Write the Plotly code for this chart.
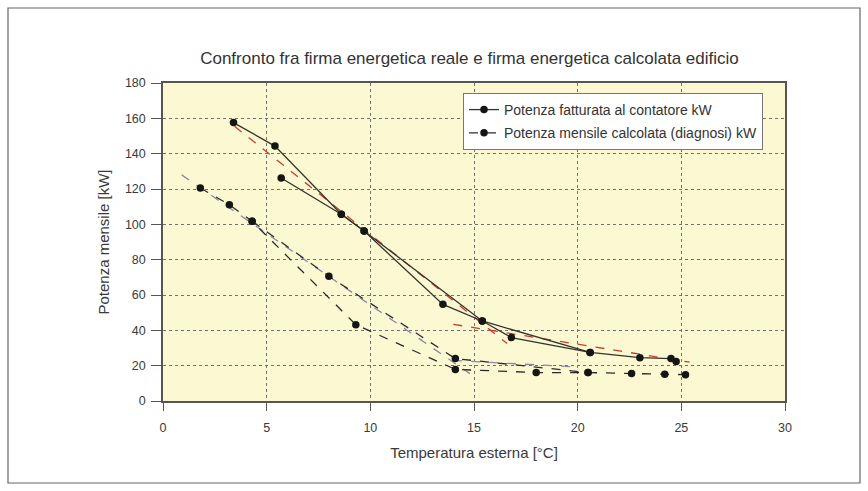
import plotly.graph_objects as go

# ---- data ----
# Potenza fatturata al contatore kW (solid) – two branches of the same series
fatt_a_x = [5.7, 8.6, 9.7, 13.5, 15.4, 16.8, 20.6, 23.0, 24.5, 24.75]
fatt_a_y = [126.2, 105.7, 96.2, 54.7, 45.3, 35.9, 27.5, 24.5, 24.0, 22.4]
fatt_b_x = [3.4, 5.4, 8.6, 9.7, 15.4, 20.6]
fatt_b_y = [157.6, 144.3, 105.7, 96.2, 45.3, 27.5]

# Potenza mensile calcolata (diagnosi) kW (dashed) – two branches
calc_a_x = [1.8, 3.2, 4.3, 9.3, 14.1, 18.0, 20.5, 22.6, 24.2, 25.2]
calc_a_y = [120.6, 111.1, 101.7, 43.2, 17.9, 16.1, 16.1, 15.5, 15.1, 14.9]
calc_b_x = [4.3, 8.0, 14.1, 20.5]
calc_b_y = [101.7, 70.6, 24.0, 16.1]

# trend lines (red: billed, blue-grey: calculated)
trend_red_1_x = [3.45, 16.6]
trend_red_1_y = [155.5, 32.5]
trend_red_2_x = [14.0, 25.4]
trend_red_2_y = [43.4, 22.0]
trend_blue_1_x = [0.9, 14.8]
trend_blue_1_y = [128.0, 15.5]
trend_blue_2_x = [14.0, 20.0]
trend_blue_2_y = [23.0, 19.2]

x_ticks = [0, 5, 10, 15, 20, 25, 30]
y_ticks = [0, 20, 40, 60, 80, 100, 120, 140, 160, 180]

FONT = "Liberation Sans, Arial, sans-serif"
fig = go.Figure()

for tx, ty in [(trend_blue_1_x, trend_blue_1_y), (trend_blue_2_x, trend_blue_2_y)]:
    fig.add_trace(go.Scatter(x=tx, y=ty, mode="lines", showlegend=False,
                             line=dict(color="#8a88a8", width=1.3, dash="dash")))
for tx, ty in [(trend_red_1_x, trend_red_1_y), (trend_red_2_x, trend_red_2_y)]:
    fig.add_trace(go.Scatter(x=tx, y=ty, mode="lines", showlegend=False,
                             line=dict(color="#cc3b2e", width=1.3, dash="dash")))

solid_line = dict(color="#33332b", width=1.3)
mk = dict(color="#151515", size=7.5)
fig.add_trace(go.Scatter(x=fatt_a_x, y=fatt_a_y, mode="lines+markers",
                         name="Potenza fatturata al contatore kW",
                         legendgroup="a", line=solid_line, marker=mk))
fig.add_trace(go.Scatter(x=fatt_b_x, y=fatt_b_y, mode="lines+markers",
                         showlegend=False, legendgroup="a", line=solid_line, marker=mk))

dash_line = dict(color="#2b2b2b", width=1.3, dash="dash")
fig.add_trace(go.Scatter(x=calc_a_x, y=calc_a_y, mode="lines+markers",
                         name="Potenza mensile calcolata (diagnosi) kW",
                         legendgroup="b", line=dash_line, marker=mk))
fig.add_trace(go.Scatter(x=calc_b_x, y=calc_b_y, mode="lines+markers",
                         showlegend=False, legendgroup="b", line=dash_line, marker=mk))

L, R, T, B = 163, 83, 83, 90
W, H = 868, 491
pw, ph = W - L - R, H - T - B

def px(xp):
    return (xp - L) / pw

def py(yp):
    return (H - B - yp) / ph

fig.update_layout(
    width=W, height=H,
    margin=dict(l=L, r=R, t=T, b=B, autoexpand=False),
    paper_bgcolor="white",
    plot_bgcolor="#fcf8d2",
    font=dict(family=FONT, size=12.5, color="#3a3a3a"),
    title=dict(text="Confronto fra firma energetica reale e firma energetica calcolata edificio",
               x=px(469.5), xref="paper", xanchor="center", y=1 - 58 / H, yanchor="middle",
               font=dict(size=17, color="#333333")),
    legend=dict(x=px(463), y=py(93), xanchor="left", yanchor="top",
                bgcolor="white", bordercolor="#777777", borderwidth=1,
                font=dict(size=14, color="#333333"),
                traceorder="grouped", tracegroupgap=2),
    shapes=[dict(type="rect", xref="paper", yref="paper",
                 x0=px(8), x1=px(860), y0=py(483), y1=py(8),
                 line=dict(color="#666666", width=1.2), layer="below")],
)
fig.update_xaxes(range=[0, 30], tickvals=x_ticks, ticktext=[str(v) for v in x_ticks],
                 showgrid=True, gridcolor="#707070", griddash="dot", gridwidth=1,
                 zeroline=False, showline=True, linecolor="#555555", linewidth=1.5,
                 mirror=True, ticks="outside", ticklen=8, tickcolor="#555555",
                 ticklabelstandoff=6,
                 title=dict(text="Temperatura esterna [°C]", font=dict(size=15), standoff=14))
fig.update_yaxes(range=[0, 180], tickvals=y_ticks, ticktext=[str(v) for v in y_ticks],
                 showgrid=True, gridcolor="#707070", griddash="dot", gridwidth=1,
                 zeroline=False, showline=True, linecolor="#555555", linewidth=1.5,
                 mirror=True, ticks="outside", ticklen=10, tickcolor="#555555",
                 ticklabelstandoff=3,
                 title=dict(text="Potenza mensile [kW]", font=dict(size=15), standoff=12))

fig.write_html("out.html", config={"displayModeBar": False},
               post_script="document.body.style.margin='0';")
